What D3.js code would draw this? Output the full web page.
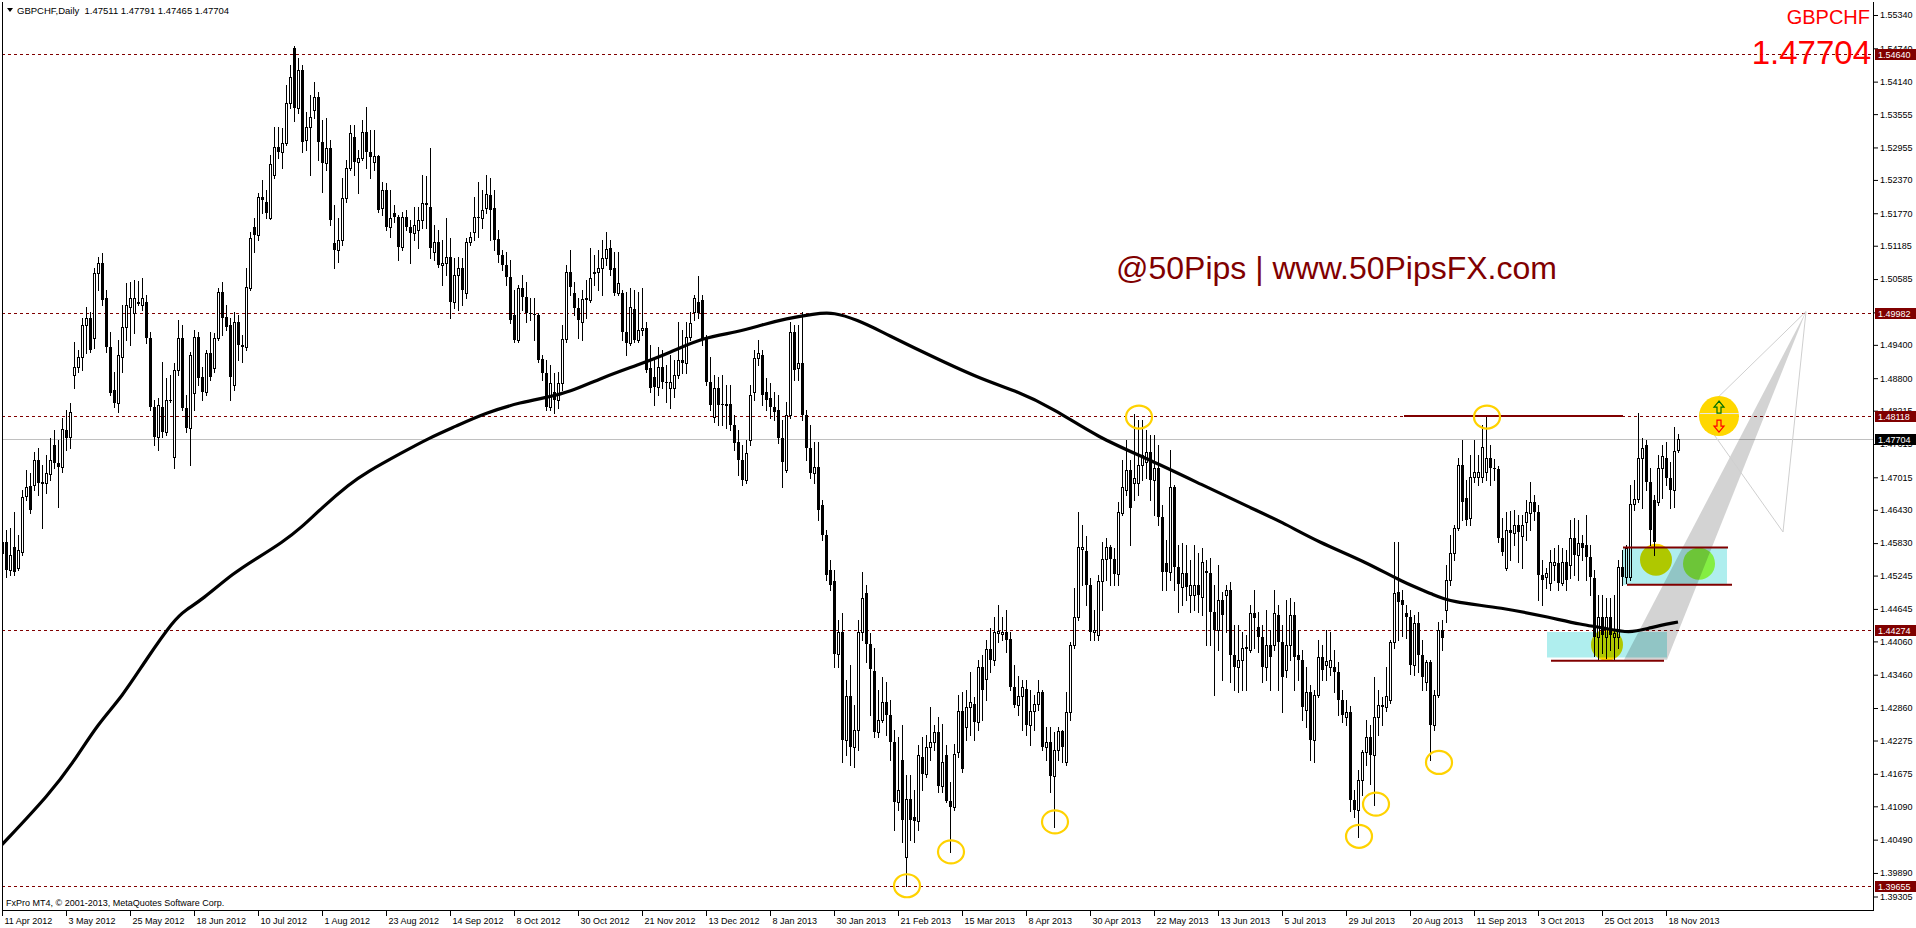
<!DOCTYPE html>
<html><head><meta charset="utf-8">
<script src="https://cdn.jsdelivr.net/npm/d3@7"></script>
<style>
html,body{margin:0;padding:0;background:#fff;overflow:hidden}
svg{display:block}
text{font-family:"Liberation Sans",Arial,sans-serif}
</style></head><body>
<svg id="chart" width="1916" height="928"></svg>
<script>
// GBPCHF daily candles, 11 Apr 2012 .. 21 Nov 2013
const opens=[1.4566,1.4585,1.4535,1.4576,1.4539,1.4567,1.4668,1.4686,1.4688,1.4733,
1.4692,1.4692,1.4708,1.4760,1.4728,1.4720,1.4787,1.4774,1.4886,1.4900,
1.4918,1.4976,1.4989,1.4953,1.5070,1.5088,1.5025,1.4936,1.4859,1.4836,
1.4918,1.4972,1.5008,1.4998,1.5016,1.5012,1.5017,1.4953,1.4828,1.4774,
1.4828,1.4783,1.4841,1.4738,1.4895,1.4953,1.4827,1.4791,1.4854,1.4954,
1.4882,1.4855,1.4926,1.4899,1.4953,1.5035,1.4990,1.4976,1.4868,1.4981,
1.4940,1.4936,1.5043,1.5152,1.5138,1.5206,1.5197,1.5169,1.5246,1.5296,
1.5287,1.5304,1.5376,1.5475,1.5367,1.5435,1.5309,1.5332,1.5363,1.5386,
1.5305,1.5268,1.5295,1.5124,1.5111,1.5129,1.5205,1.5259,1.5314,1.5269,
1.5277,1.5323,1.5287,1.5269,1.5280,1.5187,1.5219,1.5152,1.5178,1.5170,
1.5116,1.5170,1.5152,1.5142,1.5147,1.5165,1.5196,1.5188,1.5107,1.5125,
1.5084,1.5088,1.5098,1.5017,1.5066,1.5079,1.5034,1.5125,1.5143,1.5170,
1.5169,1.5187,1.5210,1.5187,1.5131,1.5102,1.5084,1.5062,1.4994,1.4949,
1.5043,1.5026,1.4998,1.4996,1.4994,1.4915,1.4890,1.4828,1.4855,1.4841,
1.4872,1.4951,1.5071,1.5034,1.5007,1.4981,1.5025,1.5021,1.5069,1.5071,
1.5079,1.5097,1.5115,1.5079,1.5034,1.5034,1.4963,1.4944,1.5005,1.4949,
1.4967,1.4971,1.4899,1.4882,1.4865,1.4900,1.4873,1.4863,1.4863,1.4886,
1.4913,1.4908,1.4954,1.4999,1.5017,1.5021,1.4953,1.4873,1.4810,1.4863,
1.4834,1.4832,1.4834,1.4796,1.4765,1.4733,1.4697,1.4769,1.4855,1.4917,
1.4922,1.4855,1.4845,1.4828,1.4823,1.4773,1.4715,1.4814,1.4963,1.4899,
1.4908,1.4814,1.4755,1.4710,1.4720,1.4652,1.4598,1.4535,1.4515,1.4384,
1.4423,1.4229,1.4308,1.4215,1.4247,1.4423,1.4494,1.4402,1.4353,1.4243,
1.4265,1.4296,1.4274,1.4225,1.4116,1.4193,1.4017,1.4123,1.4090,1.4083,
1.4197,1.4168,1.4216,1.4225,1.4243,1.4146,1.4202,1.4119,1.4107,1.4207,
1.4281,1.4251,1.4287,1.4294,1.4260,1.4360,1.4339,1.4393,1.4373,1.4422,
1.4420,1.4423,1.4411,1.4323,1.4292,1.4308,1.4321,1.4256,1.4281,1.4294,
1.4314,1.4215,1.4225,1.4164,1.4211,1.4245,1.4189,1.4278,1.4400,1.4450,
1.4573,1.4569,1.4508,1.4423,1.4418,1.4515,1.4555,1.4576,1.4555,1.4528,
1.4638,1.4679,1.4715,1.4692,1.4692,1.4724,1.4729,1.4747,1.4697,1.4719,
1.4630,1.4548,1.4531,1.4684,1.4540,1.4504,1.4530,1.4490,1.4490,1.4508,
1.4486,1.4532,1.4530,1.4459,1.4427,1.4481,1.4490,1.4499,1.4382,1.4360,
1.4373,1.4395,1.4391,1.4458,1.4432,1.4414,1.4360,1.4400,1.4400,1.4454,
1.4405,1.4355,1.4400,1.4454,1.4382,1.4373,1.4283,1.4314,1.4229,1.4310,
1.4378,1.4364,1.4360,1.4360,1.4350,1.4301,1.4270,1.4278,1.4121,1.4103,
1.4157,1.4207,1.4234,1.4202,1.4269,1.4292,1.4287,1.4301,1.4405,1.4495,
1.4481,1.4458,1.4450,1.4364,1.4440,1.4382,1.4332,1.4369,1.4256,1.4310,
1.4427,1.4463,1.4517,1.4566,1.4611,1.4724,1.4665,1.4629,1.4702,1.4702,
1.4702,1.4711,1.4737,1.4719,1.4717,1.4593,1.4539,1.4607,1.4602,1.4616,
1.4595,1.4621,1.4638,1.4657,1.4639,1.4526,1.4522,1.4512,1.4544,1.4548,
1.4512,1.4549,1.4544,1.4593,1.4562,1.4584,1.4580,1.4558,1.4521,1.4414,
1.4450,1.4414,1.4450,1.4414,1.4414,1.4540,1.4522,1.4522,1.4654,1.4663,
1.4737,1.4760,1.4693,1.4661,1.4657,1.4719,1.4737,1.4701,1.4679,1.47511];

const highs=[1.4602,1.4607,1.4611,1.4639,1.4598,1.4679,1.4715,1.4710,1.4747,1.4755,
1.4724,1.4742,1.4773,1.4787,1.4769,1.4809,1.4823,1.4836,1.4945,1.4931,
1.4989,1.5008,1.4999,1.5079,1.5098,1.5106,1.5039,1.4963,1.4891,1.4949,
1.5012,1.5052,1.5053,1.5057,1.5055,1.5061,1.5030,1.4963,1.4841,1.4845,
1.4909,1.4881,1.4886,1.4908,1.4985,1.4976,1.4850,1.4927,1.4967,1.4963,
1.4900,1.4931,1.4963,1.4962,1.5043,1.5053,1.5012,1.4989,1.4999,1.4994,
1.4958,1.5079,1.5143,1.5169,1.5214,1.5237,1.5219,1.5282,1.5332,1.5332,
1.5331,1.5408,1.5444,1.5478,1.5457,1.5444,1.5359,1.5390,1.5413,1.5395,
1.5345,1.5349,1.5309,1.5192,1.5169,1.5241,1.5273,1.5336,1.5336,1.5291,
1.5345,1.5368,1.5327,1.5327,1.5282,1.5233,1.5232,1.5219,1.5192,1.5174,
1.5179,1.5183,1.5165,1.5188,1.5188,1.5246,1.5244,1.5295,1.5156,1.5147,
1.5129,1.5169,1.5133,1.5097,1.5098,1.5097,1.5133,1.5143,1.5206,1.5233,
1.5219,1.5246,1.5241,1.5219,1.5147,1.5111,1.5107,1.5093,1.5039,1.5048,
1.5066,1.5053,1.5025,1.5025,1.4998,1.4922,1.4913,1.4904,1.4890,1.4891,
1.4976,1.5084,1.5111,1.5053,1.5025,1.5039,1.5057,1.5115,1.5102,1.5111,
1.5129,1.5143,1.5129,1.5107,1.5107,1.5039,1.5035,1.5043,1.5039,1.5035,
1.5043,1.4981,1.4940,1.4913,1.4936,1.4931,1.4904,1.4922,1.4913,1.4981,
1.4967,1.4981,1.4999,1.5030,1.5064,1.5030,1.4958,1.4918,1.4886,1.4882,
1.4886,1.4868,1.4868,1.4814,1.4787,1.4760,1.4769,1.4868,1.4931,1.4949,
1.4931,1.4881,1.4872,1.4855,1.4850,1.4805,1.4837,1.4981,1.4976,1.4976,
1.4999,1.4823,1.4796,1.4765,1.4765,1.4661,1.4607,1.4553,1.4535,1.4445,
1.4458,1.4337,1.4364,1.4292,1.4445,1.4531,1.4508,1.4422,1.4395,1.4319,
1.4341,1.4332,1.4301,1.4247,1.4234,1.4256,1.4166,1.4166,1.4139,1.4220,
1.4233,1.4238,1.4287,1.4256,1.4269,1.4258,1.4220,1.4153,1.4222,1.4310,
1.4315,1.4319,1.4351,1.4306,1.4373,1.4382,1.4409,1.4431,1.4450,1.4472,
1.4450,1.4463,1.4423,1.4364,1.4344,1.4337,1.4337,1.4319,1.4310,1.4337,
1.4319,1.4251,1.4251,1.4243,1.4251,1.4247,1.4314,1.4405,1.4503,1.4639,
1.4616,1.4596,1.4521,1.4463,1.4526,1.4585,1.4593,1.4580,1.4575,1.4657,
1.4733,1.4769,1.4733,1.4815,1.4805,1.4805,1.4787,1.4778,1.4778,1.4760,
1.4652,1.4589,1.4751,1.4688,1.4580,1.4584,1.4580,1.4553,1.4580,1.4566,
1.4575,1.4553,1.4557,1.4508,1.4544,1.4495,1.4508,1.4513,1.4436,1.4436,
1.4423,1.4418,1.4472,1.4499,1.4459,1.4436,1.4463,1.4427,1.4499,1.4472,
1.4436,1.4481,1.4485,1.4477,1.4427,1.4390,1.4359,1.4328,1.4319,1.4409,
1.4400,1.4427,1.4423,1.4391,1.4369,1.4319,1.4301,1.4290,1.4139,1.4175,
1.4210,1.4265,1.4256,1.4341,1.4319,1.4305,1.4359,1.4409,1.4585,1.4585,
1.4499,1.4472,1.4463,1.4454,1.4459,1.4409,1.4373,1.4373,1.4319,1.4441,
1.4445,1.4544,1.4598,1.4615,1.4737,1.4769,1.4697,1.4742,1.4769,1.4742,
1.4795,1.4812,1.4760,1.4735,1.4722,1.4629,1.4639,1.4641,1.4643,1.4634,
1.4634,1.4661,1.4693,1.4670,1.4652,1.4553,1.4539,1.4571,1.4575,1.4580,
1.4575,1.4571,1.4625,1.4629,1.4625,1.4598,1.4634,1.4580,1.4535,1.4490,
1.4490,1.4485,1.4485,1.4490,1.4553,1.4571,1.4580,1.4688,1.4697,1.4818,
1.4773,1.4769,1.4719,1.4670,1.4742,1.4760,1.4765,1.4729,1.4792,1.47791];

const lows=[1.4530,1.4522,1.4526,1.4526,1.4535,1.4562,1.4661,1.4638,1.4679,1.4670,
1.4611,1.4674,1.4697,1.4719,1.4648,1.4711,1.4751,1.4755,1.4863,1.4891,
1.4895,1.4926,1.4927,1.4935,1.5039,1.5012,1.4927,1.4850,1.4828,1.4819,
1.4891,1.4949,1.4940,1.4962,1.5012,1.5003,1.4944,1.4823,1.4760,1.4751,
1.4774,1.4778,1.4837,1.4719,1.4886,1.4823,1.4783,1.4724,1.4823,1.4868,
1.4841,1.4850,1.4877,1.4891,1.4949,1.4958,1.4967,1.4841,1.4859,1.4913,
1.4909,1.4931,1.5039,1.5107,1.5129,1.5178,1.5169,1.5167,1.5241,1.5277,
1.5259,1.5300,1.5367,1.5343,1.5358,1.5287,1.5291,1.5246,1.5349,1.5273,
1.5215,1.5255,1.5156,1.5079,1.5089,1.5120,1.5197,1.5255,1.5246,1.5214,
1.5273,1.5259,1.5241,1.5255,1.5179,1.5174,1.5147,1.5134,1.5161,1.5093,
1.5111,1.5147,1.5088,1.5129,1.5115,1.5151,1.5151,1.5097,1.5093,1.5080,
1.5048,1.5066,1.4989,1.5007,1.5003,1.5012,1.5025,1.5120,1.5129,1.5134,
1.5151,1.5178,1.5129,1.5111,1.5089,1.5075,1.5048,1.4980,1.4945,1.4945,
1.5003,1.4981,1.4985,1.4949,1.4909,1.4877,1.4823,1.4823,1.4818,1.4827,
1.4859,1.4945,1.5030,1.4994,1.4953,1.4949,1.4989,1.5017,1.5048,1.5039,
1.5030,1.5084,1.5066,1.5030,1.5030,1.4949,1.4922,1.4940,1.4945,1.4945,
1.4958,1.4891,1.4855,1.4832,1.4850,1.4863,1.4837,1.4827,1.4846,1.4881,
1.4890,1.4890,1.4949,1.4985,1.4989,1.4940,1.4868,1.4823,1.4801,1.4796,
1.4796,1.4791,1.4787,1.4751,1.4706,1.4688,1.4692,1.4760,1.4841,1.4904,
1.4832,1.4823,1.4809,1.4805,1.4764,1.4684,1.4711,1.4809,1.4877,1.4877,
1.4805,1.4733,1.4701,1.4692,1.4625,1.4589,1.4517,1.4499,1.4359,1.4359,
1.4189,1.4202,1.4184,1.4179,1.4211,1.4409,1.4369,1.4274,1.4233,1.4233,
1.4261,1.4238,1.4193,1.4067,1.4103,1.4045,1.39655,1.4049,1.4045,1.4067,
1.4139,1.4161,1.4193,1.4211,1.4135,1.4135,1.4116,1.4026,1.4103,1.4197,
1.4171,1.4229,1.4238,1.4229,1.4247,1.4265,1.4301,1.4351,1.4364,1.4405,
1.4409,1.4387,1.4319,1.4288,1.4274,1.4247,1.4238,1.4220,1.4247,1.4283,
1.4211,1.4193,1.4135,1.4071,1.4193,1.4189,1.4184,1.4265,1.4395,1.4445,
1.4508,1.4472,1.4409,1.4409,1.4409,1.4463,1.4517,1.4508,1.4508,1.4508,
1.4634,1.4670,1.4580,1.4661,1.4670,1.4697,1.4701,1.4661,1.4634,1.4616,
1.4499,1.4499,1.4517,1.4499,1.4459,1.4472,1.4481,1.4459,1.4463,1.4459,
1.4454,1.4400,1.4400,1.4310,1.4391,1.4337,1.4423,1.4333,1.4319,1.4315,
1.4319,1.4319,1.4387,1.4395,1.4387,1.4333,1.4337,1.4319,1.4391,1.4319,
1.4278,1.4341,1.4373,1.4319,1.4337,1.4265,1.4251,1.4193,1.4189,1.4305,
1.4337,1.4337,1.4346,1.4315,1.4274,1.4261,1.4256,1.4100,1.4090,1.4054,
1.4130,1.4184,1.4150,1.4112,1.4238,1.4256,1.4280,1.4295,1.4395,1.4409,
1.4416,1.4413,1.4348,1.4346,1.4351,1.4319,1.4319,1.4193,1.4247,1.4305,
1.4391,1.4441,1.4508,1.4553,1.4607,1.4625,1.4616,1.4616,1.4693,1.4688,
1.4693,1.4697,1.4688,1.4697,1.4585,1.4562,1.4535,1.4553,1.4580,1.4549,
1.4539,1.4589,1.4607,1.4625,1.4481,1.4472,1.4503,1.4499,1.4517,1.4499,
1.4508,1.4499,1.4521,1.4526,1.4517,1.4553,1.4517,1.4490,1.4380,1.4373,
1.4385,1.4376,1.4390,1.4373,1.4395,1.4508,1.4512,1.4517,1.4643,1.4657,
1.4647,1.4679,1.4580,1.4562,1.4652,1.4665,1.4688,1.4647,1.4648,1.47465];

const closes=[1.4585,1.4535,1.4562,1.4531,1.4571,1.4666,1.4684,1.4643,1.4733,1.4692,
1.4693,1.4710,1.4733,1.4728,1.4720,1.4789,1.4773,1.4819,1.4900,1.4918,
1.4976,1.4989,1.4931,1.5070,1.5088,1.5021,1.4936,1.4854,1.4836,1.4922,
1.4972,1.5012,1.5025,1.5025,1.5017,1.5025,1.4953,1.4828,1.4774,1.4832,
1.4783,1.4841,1.4839,1.4895,1.4953,1.4827,1.4791,1.4922,1.4954,1.4881,
1.4855,1.4926,1.4882,1.4953,1.5035,1.4989,1.4972,1.4882,1.4981,1.4940,
1.4936,1.5044,1.5133,1.5138,1.5206,1.5201,1.5178,1.5266,1.5296,1.5287,
1.5304,1.5376,1.5422,1.5367,1.5435,1.5305,1.5332,1.5350,1.5386,1.5305,
1.5268,1.5295,1.5165,1.5111,1.5129,1.5205,1.5259,1.5322,1.5269,1.5277,
1.5323,1.5287,1.5278,1.5280,1.5183,1.5219,1.5152,1.5169,1.5170,1.5116,
1.5170,1.5152,1.5142,1.5156,1.5165,1.5196,1.5192,1.5115,1.5125,1.5084,
1.5088,1.5098,1.5017,1.5066,1.5079,1.5039,1.5125,1.5134,1.5170,1.5169,
1.5183,1.5212,1.5183,1.5129,1.5102,1.5084,1.5062,1.4985,1.4949,1.5043,
1.5026,1.4998,1.4996,1.4994,1.4913,1.4890,1.4828,1.4872,1.4841,1.4872,
1.4951,1.5071,1.5044,1.5007,1.4985,1.5023,1.5021,1.5061,1.5071,1.5079,
1.5097,1.5113,1.5075,1.5034,1.5052,1.4963,1.4944,1.5008,1.4949,1.4967,
1.4971,1.4895,1.4863,1.4865,1.4900,1.4873,1.4872,1.4873,1.4886,1.4913,
1.4908,1.4954,1.4980,1.5025,1.4998,1.4953,1.4873,1.4832,1.4863,1.4832,
1.4832,1.4834,1.4796,1.4764,1.4733,1.4697,1.4746,1.4850,1.4917,1.4926,
1.4850,1.4841,1.4828,1.4819,1.4773,1.4729,1.4814,1.4963,1.4895,1.4908,
1.4814,1.4755,1.4710,1.4720,1.4643,1.4598,1.4526,1.4508,1.4384,1.4423,
1.4229,1.4308,1.4216,1.4247,1.4423,1.4485,1.4402,1.4357,1.4243,1.4265,
1.4296,1.4274,1.4225,1.4116,1.4139,1.4085,1.4123,1.4085,1.4083,1.4202,
1.4168,1.4216,1.4225,1.4242,1.4146,1.4189,1.4119,1.4107,1.4204,1.4281,
1.4177,1.4287,1.4296,1.4260,1.4360,1.4319,1.4393,1.4373,1.4423,1.4424,
1.4423,1.4409,1.4323,1.4292,1.4308,1.4323,1.4256,1.4281,1.4294,1.4314,
1.4215,1.4225,1.4164,1.4211,1.4245,1.4215,1.4278,1.4400,1.4450,1.4576,
1.4576,1.4508,1.4423,1.4427,1.4515,1.4555,1.4576,1.4555,1.4528,1.4639,
1.4684,1.4715,1.4647,1.4701,1.4724,1.4742,1.4747,1.4697,1.4719,1.4630,
1.4531,1.4531,1.4684,1.4540,1.4510,1.4530,1.4504,1.4508,1.4508,1.4490,
1.4549,1.4530,1.4459,1.4427,1.4481,1.4454,1.4499,1.4382,1.4360,1.4373,
1.4395,1.4396,1.4458,1.4449,1.4414,1.4360,1.4400,1.4377,1.4458,1.4405,
1.4341,1.4400,1.4454,1.4377,1.4373,1.4288,1.4314,1.4229,1.4310,1.4378,
1.4355,1.4371,1.4373,1.4350,1.4301,1.4274,1.4278,1.4121,1.4103,1.4157,
1.4207,1.4234,1.4202,1.4269,1.4292,1.4287,1.4308,1.4405,1.4494,1.4477,
1.4472,1.4450,1.4364,1.4440,1.4382,1.4342,1.4369,1.4256,1.4310,1.4427,
1.4413,1.4517,1.4566,1.4611,1.4724,1.4657,1.4625,1.4702,1.4711,1.4711,
1.4756,1.4737,1.4719,1.4717,1.4593,1.4567,1.4607,1.4602,1.4616,1.4603,
1.4616,1.4639,1.4657,1.4639,1.4526,1.4517,1.4530,1.4549,1.4549,1.4512,
1.4549,1.4517,1.4593,1.4562,1.4584,1.4575,1.4558,1.4522,1.4414,1.4450,
1.4418,1.4450,1.4418,1.4422,1.4540,1.4522,1.4575,1.4654,1.4663,1.4737,
1.4755,1.4693,1.4607,1.4585,1.4719,1.4740,1.4701,1.4679,1.4749,1.47704];

// 200-day moving average, sampled at bar indices
const maBars  =[0,12,18,24,30,36,43,46,50,58,64,70,75,80,87,91,100,107,113,121,130,136,142,150,159,167,175,184,190,196,203,208,214,219,229,245,253,263,274,287,300,312,320,329,341,350,358,362,375,387,395,400,407,412,419];
const maValues=[1.4040,1.4132,1.4190,1.4258,1.4306,1.4373,1.4445,1.4463,1.4481,1.4530,1.4557,1.4584,1.4612,1.4647,1.4690,1.4710,1.4746,1.4773,1.4792,1.4818,1.4837,1.4845,1.4855,1.4881,1.4904,1.4926,1.4953,1.4963,1.4976,1.4987,1.4996,1.4999,1.4984,1.4967,1.4931,1.4877,1.4859,1.4825,1.4773,1.4733,1.4688,1.4647,1.4621,1.4585,1.4549,1.4513,1.4490,1.4477,1.4467,1.4449,1.4436,1.4431,1.4420,1.4431,1.4441];

const dateLabels=["11 Apr 2012","3 May 2012","25 May 2012","18 Jun 2012","10 Jul 2012","1 Aug 2012","23 Aug 2012","14 Sep 2012","8 Oct 2012","30 Oct 2012","21 Nov 2012","13 Dec 2012","8 Jan 2013","30 Jan 2013","21 Feb 2013","15 Mar 2013","8 Apr 2013","30 Apr 2013","22 May 2013","13 Jun 2013","5 Jul 2013","29 Jul 2013","20 Aug 2013","11 Sep 2013","3 Oct 2013","25 Oct 2013","18 Nov 2013"];
const priceTicks=[1.55340,1.54740,1.54140,1.53555,1.52955,1.52370,1.51770,1.51185,1.50585,1.49985,1.49400,1.48800,1.48215,1.47615,1.47015,1.46430,1.45830,1.45245,1.44645,1.44060,1.43460,1.42860,1.42275,1.41675,1.41090,1.40490,1.39890,1.39305];
const levelPrices=[1.54640,1.49982,1.48118,1.44274,1.39655];
const lastPrice=1.47704;

// marked swing points (bar index, price)
const swingBars=[226.25,237.25,263.25,284.25,339.25,343.5,359.25,371.25];
const swingPrices=[1.3966,1.4027,1.4081,1.4810,1.4055,1.4113,1.4188,1.4810];

const svg=d3.select("#chart");
const L=2,R=1873,T=2,B=910;
const x=d3.scaleLinear().domain([0,419]).range([2,1678]);
const y=d3.scaleLinear().domain([1.39223,1.55574]).range([910,2]);
const maroon="#800000";

svg.append("defs").append("clipPath").attr("id","plot")
  .append("rect").attr("x",L).attr("y",T).attr("width",R-L).attr("height",B-T);
const plot=svg.append("g").attr("clip-path","url(#plot)");

// horizontal levels
plot.selectAll("line.lvl").data(levelPrices).enter().append("line")
  .attr("x1",L).attr("x2",R)
  .attr("y1",d=>Math.round(y(d))+0.5).attr("y2",d=>Math.round(y(d))+0.5)
  .attr("stroke",maroon).attr("stroke-width",1).attr("stroke-dasharray","3,3");
plot.append("line").attr("x1",L).attr("x2",R)
  .attr("y1",Math.round(y(lastPrice))+0.5).attr("y2",Math.round(y(lastPrice))+0.5)
  .attr("stroke","#c0c0c0").attr("stroke-width",1);

// candles
const idx=d3.range(opens.length);
const cg=plot.append("g").attr("shape-rendering","crispEdges");
idx.forEach(i=>{
  const o=opens[i],c=closes[i];
  const cx=Math.round(x(i));
  const hi=Math.max(highs[i],o,c), lo=Math.min(lows[i],o,c);
  cg.append("line").attr("x1",cx+0.5).attr("x2",cx+0.5)
    .attr("y1",Math.round(y(hi))).attr("y2",Math.round(y(lo))+1)
    .attr("stroke","#000");
  const top=Math.round(y(Math.max(o,c))), bot=Math.round(y(Math.min(o,c)));
  if(c>o){
    cg.append("rect").attr("x",cx-0.5).attr("y",top+0.5)
      .attr("width",2).attr("height",Math.max(bot-top,1))
      .attr("fill","#fff").attr("stroke","#000");
  } else {
    cg.append("rect").attr("x",cx-1).attr("y",top)
      .attr("width",3).attr("height",Math.max(bot-top,1)).attr("fill","#000");
  }
});

// moving average
const maPts=maBars.map((b,k)=>[b,maValues[k]]);
plot.append("path").datum(maPts)
  .attr("d",d3.line().x(d=>x(d[0])).y(d=>y(d[1])).curve(d3.curveBasis))
  .attr("fill","none").attr("stroke","#000").attr("stroke-width",3.2);

// drawn objects (blended)
const ob=plot.append("g");
const mult=sel=>sel.style("mix-blend-mode","multiply");
// zone circles
mult(ob.append("circle").attr("cx",x(401.25)).attr("cy",y(1.4400)).attr("r",16).attr("fill","#ffd700"));
mult(ob.append("circle").attr("cx",x(413.5)).attr("cy",y(1.4553)).attr("r",16).attr("fill","#ffd700"));
mult(ob.append("circle").attr("cx",x(424.25)).attr("cy",y(1.4546)).attr("r",16).attr("fill","#c0ff48"));
// projection wedge
const wedge=[[405.5,1.4373],[416.25,1.4373],[451,1.5000]];
mult(ob.append("path").attr("d",d3.line().x(d=>x(d[0])).y(d=>y(d[1]))(wedge)+"Z").attr("fill","#d3d3d3"));
// zones
mult(ob.append("rect").attr("x",x(386.25)).attr("y",y(1.4423)).attr("width",x(416.25)-x(386.25)).attr("height",y(1.4377)-y(1.4423)).attr("fill","#afeeee"));
mult(ob.append("rect").attr("x",x(405.25)).attr("y",y(1.4575)).attr("width",x(431.25)-x(405.25)).attr("height",y(1.4508)-y(1.4575)).attr("fill","#afeeee"));

// thin projection lines
const fan=[[451,1.5000],[424.5,1.4814],[445.25,1.4603],[451,1.5000]];
plot.append("path").attr("d",d3.line().x(d=>x(d[0])).y(d=>y(d[1]))(fan))
  .attr("fill","none").attr("stroke","#cfcfcf").attr("stroke-width",1);

// solid maroon trend lines
const segs=[[350.5,405.25,1.48118],[405.25,431.5,1.4575],[406.25,432.5,1.4508],[387.25,415.5,1.4371]];
plot.selectAll("line.seg").data(segs).enter().append("line")
  .attr("x1",d=>x(d[0])).attr("x2",d=>x(d[1]))
  .attr("y1",d=>y(d[2])).attr("y2",d=>y(d[2]))
  .attr("stroke",maroon).attr("stroke-width",2);

// swing markers
plot.selectAll("ellipse.sw").data(swingBars).enter().append("ellipse")
  .attr("cx",d=>x(d)).attr("cy",(d,k)=>y(swingPrices[k]))
  .attr("rx",13).attr("ry",11.5).attr("fill","none")
  .attr("stroke","#ffd200").attr("stroke-width",2.2);

// decision marker with up/down arrows
const gx=x(429.25), gy=y(1.48118);
plot.append("circle").attr("cx",gx).attr("cy",gy).attr("r",20).attr("fill","#ffd700");
plot.append("line").attr("x1",gx-19).attr("x2",gx+20).attr("y1",gy-2.5).attr("y2",gy-2.5).attr("stroke","#e8e8e8").attr("stroke-width",1);
const up=[[0,-15],[-5,-9],[-2,-9],[-2,-3],[2,-3],[2,-9],[5,-9]];
const dn=up.map(p=>[p[0],-p[1]+1]);
plot.append("polygon").attr("points",up.map(p=>[gx+p[0],gy+p[1]].join(",")).join(" "))
  .attr("fill","none").attr("stroke","#007000").attr("stroke-width",1.2);
plot.append("polygon").attr("points",dn.map(p=>[gx+p[0],gy+p[1]].join(",")).join(" "))
  .attr("fill","none").attr("stroke","#ff0000").attr("stroke-width",1.2);

// frame
svg.append("line").attr("x1",L+0.5).attr("x2",L+0.5).attr("y1",T).attr("y2",B).attr("stroke","#000");
svg.append("line").attr("x1",R+0.5).attr("x2",R+0.5).attr("y1",T).attr("y2",B+1).attr("stroke","#000");
svg.append("line").attr("x1",L).attr("x2",R+1).attr("y1",B+0.5).attr("y2",B+0.5).attr("stroke","#000");

// price axis
const yAxis=d3.axisRight(y).tickValues(priceTicks).tickFormat(d3.format(".5f")).tickSize(4).tickPadding(2);
const ya=svg.append("g").attr("transform",`translate(${R+1},0)`).call(yAxis);
ya.select(".domain").remove();
ya.selectAll(".tick").filter(d=>d===1.39305).attr("transform",`translate(0,897)`);
ya.selectAll("text").attr("font-size",9).attr("fill","#000").style("font-family","Liberation Sans, Arial");
ya.selectAll("line").attr("stroke","#000");

// level tags
const tags=levelPrices.map(p=>({p,bg:maroon})).concat([{p:lastPrice,bg:"#000"}]);
const tg=svg.selectAll("g.tag").data(tags).enter().append("g");
tg.append("rect").attr("x",R+2).attr("y",d=>Math.round(y(d.p))-5).attr("width",41).attr("height",11).attr("fill",d=>d.bg);
tg.append("text").attr("x",R+5).attr("y",d=>Math.round(y(d.p))+4).attr("font-size",9).attr("fill","#fff").text(d=>d.p.toFixed(5));

// time axis
const xAxis=d3.axisBottom(x).tickValues(d3.range(0,417,16)).tickFormat((d,k)=>dateLabels[k]).tickSize(5).tickPadding(3);
const xa=svg.append("g").attr("transform",`translate(0,${B+1})`).call(xAxis);
xa.select(".domain").remove();
xa.selectAll("text").attr("text-anchor","start").attr("dx",2).attr("dy","0.55em").attr("font-size",9).attr("fill","#000").style("font-family","Liberation Sans, Arial");
xa.selectAll("line").attr("stroke","#000");

// header texts
svg.append("path").attr("d","M7,8 L13,8 L10,12 Z").attr("fill","#000");
svg.append("text").attr("x",17).attr("y",14).attr("font-size",9.5).attr("fill","#000")
  .attr("xml:space","preserve").text("GBPCHF,Daily  1.47511 1.47791 1.47465 1.47704");
svg.append("text").attr("x",1870).attr("y",24).attr("text-anchor","end").attr("font-size",20).attr("fill","#ff0000").text("GBPCHF");
svg.append("text").attr("x",1871).attr("y",64).attr("text-anchor","end").attr("font-size",33).attr("fill","#ff0000").text("1.47704");
svg.append("text").attr("x",1116).attr("y",279).attr("font-size",32).attr("fill",maroon).text("@50Pips | www.50PipsFX.com");
svg.append("text").attr("x",6).attr("y",906).attr("font-size",9).attr("fill","#000").text("FxPro MT4, © 2001-2013, MetaQuotes Software Corp.");
</script>
</body></html>
